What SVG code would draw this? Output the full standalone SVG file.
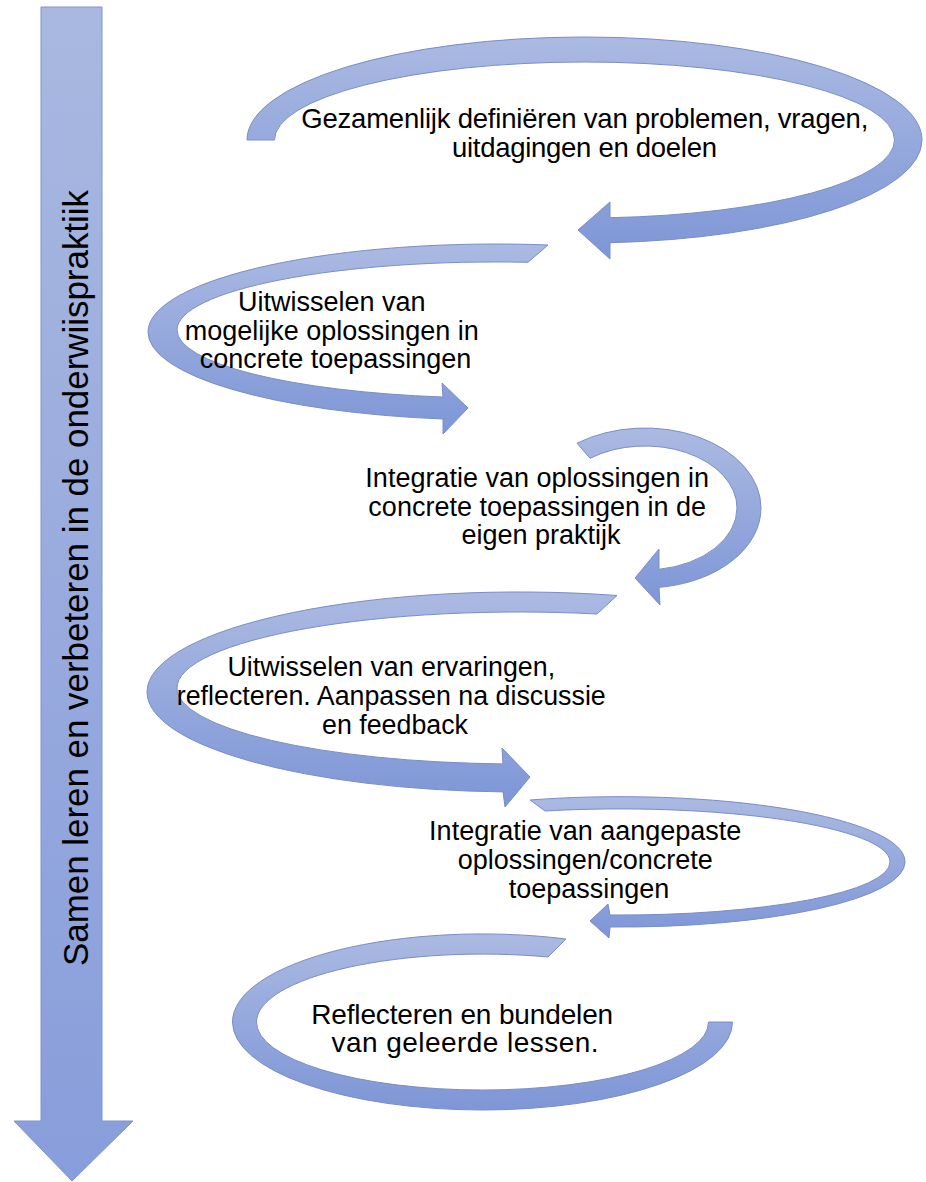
<svg xmlns="http://www.w3.org/2000/svg" width="926" height="1182" viewBox="0 0 926 1182">
  <style>
    .rib { fill: url(#ribGrad); stroke: #7a8dc6; stroke-width: 1; stroke-linejoin: miter; }
    .big { fill: url(#bigGrad); stroke: #7f93cf; stroke-width: 1; }
    .lbl { font-family: "Liberation Sans", Arial, Helvetica, sans-serif; fill: #000; text-anchor: middle; }
  </style>
  <defs>
    <linearGradient id="ribGrad" x1="0" y1="0" x2="0" y2="1">
      <stop offset="0" stop-color="#abbae2"/>
      <stop offset="1" stop-color="#7e96d7"/>
    </linearGradient>
    <linearGradient id="bigGrad" x1="0" y1="0" x2="0" y2="1">
      <stop offset="0" stop-color="#a9b8e0"/>
      <stop offset="1" stop-color="#889ddb"/>
    </linearGradient>
  </defs>
  <rect width="926" height="1182" fill="#ffffff"/>

  <g id="timeline">
    <path class="big" d="M41,7 L102,7 L102,1121 L133,1121 L72,1181 L14,1121 L41,1121 Z"/>
    <text class="lbl" font-size="35.5" textLength="776" lengthAdjust="spacingAndGlyphs" transform="translate(88,578) rotate(-90)" x="0" y="0">Samen leren en verbeteren in de onderwiispraktiik</text>
  </g>

  <g id="connectors">
    <path id="arrow1" class="rib" d="M247,140 A337.5 103 0 0 1 584.5,37 A337.5 103 0 0 1 922,140 A337.5 103 0 0 1 610,242.7 L610,259 L578,230 L610,202 L610,217.7 A310 78 0 0 0 894.5,140 A310 78 0 0 0 584.5,62 A310 78 0 0 0 274.5,140 Z"/>
    <path id="arrow2" class="rib" d="M548,245 A348 88 0 0 0 148,332 A348 88 0 0 0 443,419 L443,434 L468,408 L442,383 L443,397 A319 68 0 0 1 177,330 A319 68 0 0 1 528,262.3 Z"/>
    <path id="arrow3" class="rib" d="M577,443.2 A116 80 0 0 1 761,508 A116 80 0 0 1 659,587.4 L660,605 L635,578 L659,549 L659,569.3 A92 62 0 0 0 737,508 A92 62 0 0 0 590,458.3 Z"/>
    <path id="arrow4" class="rib" d="M617,595.5 A372 100 0 0 0 147,692 A372 100 0 0 0 503,791.9 L505,807 L530,777 L502,748 L503,763.9 A342 76 0 0 1 177,688 A342 76 0 0 1 597,614 Z"/>
    <path id="arrow5" class="rib" d="M530,800 A285 65 0 0 1 905,862 A285 65 0 0 1 610,927 L609,938 L590,921 L608,904 L610,915 A270 53 0 0 0 890,862 A270 53 0 0 0 545,811 Z"/>
    <path id="arrow6" class="rib" d="M566,939 A250 88 0 0 0 232.5,1022 A250 88 0 0 0 482.5,1110 A250 88 0 0 0 732.5,1022 L708.5,1022 A226 68 0 0 1 482.5,1090 A226 68 0 0 1 256.5,1022 A226 68 0 0 1 548,957 Z"/>
  </g>

  <g id="step1">
    <text class="lbl" font-size="27.5">
      <tspan x="588.5" y="128" textLength="567" lengthAdjust="spacing">Gezamenlijk definiëren van problemen, vragen,</tspan>
      <tspan x="584.5" y="157" textLength="265" lengthAdjust="spacing">uitdagingen en doelen</tspan>
    </text>
  </g>
  <g id="step2">
    <text class="lbl" font-size="27">
      <tspan x="335.5" y="311">Uitwisselen van</tspan>
      <tspan x="335.5" y="339.5">mogelijke oplossingen in</tspan>
      <tspan x="335.5" y="368">concrete toepassingen</tspan>
    </text>
  </g>
  <g id="step3">
    <text class="lbl" font-size="27">
      <tspan x="541" y="487">Integratie van oplossingen in</tspan>
      <tspan x="541" y="515.5">concrete toepassingen in de</tspan>
      <tspan x="541" y="544">eigen praktijk</tspan>
    </text>
  </g>
  <g id="step4">
    <text class="lbl" font-size="26.8">
      <tspan x="395" y="676">Uitwisselen van ervaringen,</tspan>
      <tspan x="395" y="705">reflecteren. Aanpassen na discussie</tspan>
      <tspan x="395" y="734">en feedback</tspan>
    </text>
  </g>
  <g id="step5">
    <text class="lbl" font-size="27">
      <tspan x="589" y="840">Integratie van aangepaste</tspan>
      <tspan x="589" y="869">oplossingen/concrete</tspan>
      <tspan x="589" y="898">toepassingen</tspan>
    </text>
  </g>
  <g id="step6">
    <text class="lbl" font-size="28">
      <tspan x="466" y="1024" textLength="302" lengthAdjust="spacing">Reflecteren en bundelen</tspan>
      <tspan x="465" y="1052" textLength="267" lengthAdjust="spacing">van geleerde lessen.</tspan>
    </text>
  </g>
</svg>
